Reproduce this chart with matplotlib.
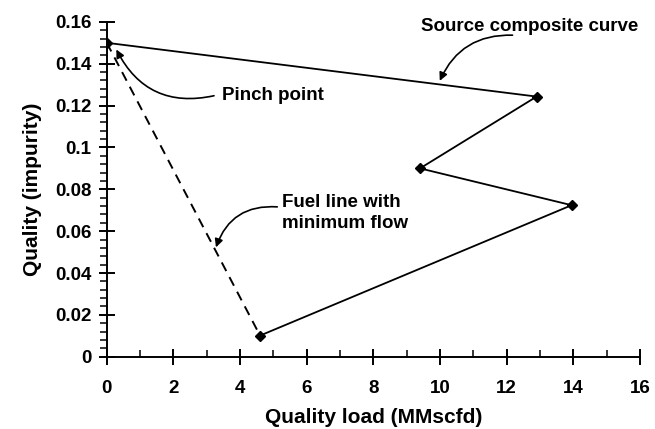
import matplotlib.pyplot as plt
from matplotlib.ticker import MultipleLocator

# source composite curve points (quality load, impurity)
load = [0.0, 12.9, 9.4, 13.95, 4.6]
quality = [0.150, 0.1243, 0.090, 0.0724, 0.0101]

# fuel line with minimum flow
fuel_load = [0.0, 4.6]
fuel_quality = [0.150, 0.0101]

plt.rcParams["font.family"] = ["Liberation Sans", "DejaVu Sans"]
plt.rcParams["font.weight"] = "bold"

fig = plt.figure(figsize=(6.55, 4.29), dpi=100)
ax = fig.add_axes([0.163, 0.1685, 0.814, 0.7805])

ax.plot(fuel_load, fuel_quality, color="black", lw=1.4, ls=(0, (5, 3.5)))
ax.plot(load, quality, color="black", lw=1.3, marker="D", markersize=5.5)

ax.set_xlim(0, 16)
ax.set_ylim(0, 0.16)
ax.spines["top"].set_visible(False)
ax.spines["right"].set_visible(False)
ax.spines["left"].set_linewidth(1.4)
ax.spines["bottom"].set_linewidth(1.4)

ax.xaxis.set_major_locator(MultipleLocator(2))
ax.xaxis.set_minor_locator(MultipleLocator(1))
ax.yaxis.set_major_locator(MultipleLocator(0.02))
ax.yaxis.set_minor_locator(MultipleLocator(0.004))
ax.tick_params(axis="x", which="major", direction="inout", length=12, width=1.4,
               labelsize=13.5, pad=11)
ax.tick_params(axis="x", which="minor", direction="in", length=5, width=1.1)
ax.tick_params(axis="y", which="major", direction="inout", length=12, width=1.4,
               labelsize=13.5, pad=5)
ax.tick_params(axis="y", which="minor", direction="out", length=5, width=1.1)
ax.set_yticks([0, 0.02, 0.04, 0.06, 0.08, 0.1, 0.12, 0.14, 0.16])
ax.set_yticklabels(["0", "0.02", "0.04", "0.06", "0.08", "0.1", "0.12", "0.14", "0.16"])

ax.set_xlabel("Quality load (MMscfd)", fontsize=15, fontweight="bold", labelpad=8)
ax.set_ylabel("Quality (impurity)", fontsize=15, fontweight="bold", labelpad=9)

arrow = dict(arrowstyle="-|>", color="black", lw=1.2, mutation_scale=12)

ax.text(12.7, 0.158, "Source composite curve", fontsize=13.5, ha="center", va="center")
ax.annotate("", xy=(9.96, 0.1306), xytext=(12.26, 0.1536),
            arrowprops=dict(connectionstyle="arc3,rad=0.35", **arrow))

ax.text(3.45, 0.125, "Pinch point", fontsize=13.5, ha="left", va="center")
ax.annotate("", xy=(0.25, 0.148), xytext=(3.3, 0.125),
            arrowprops=dict(connectionstyle="arc3,rad=-0.4", **arrow))

ax.text(5.25, 0.0687, "Fuel line with\nminimum flow", fontsize=13.5, ha="left",
        va="center", linespacing=1.3)
ax.annotate("", xy=(3.25, 0.051), xytext=(5.2, 0.0715),
            arrowprops=dict(connectionstyle="arc3,rad=0.4", **arrow))

fig.savefig("out.png", dpi=100)
